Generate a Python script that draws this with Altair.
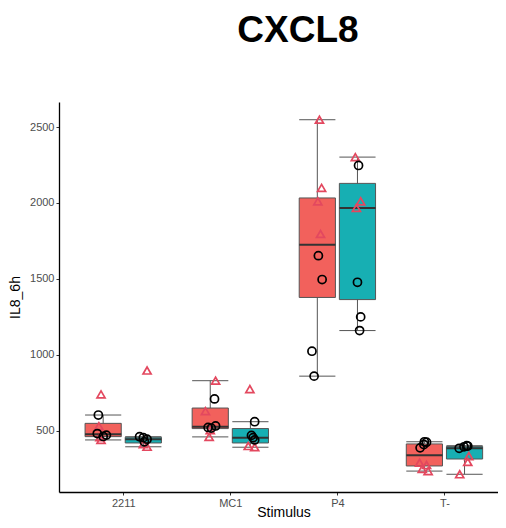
import altair as alt
import numpy as np
import pandas as pd

# ---- data ----
STIMULI = ["2211", "MC1", "P4", "T-"]
GROUPS = ["red", "teal"]

# values (IL8_6h), marker kind (c = circle, t = triangle), horizontal jitter (category units)
v_2211_red = [740, 531, 440, 458, 604, 482, 472, 463]
s_2211_red = ["t", "t", "t", "t", "c", "c", "c", "c"]
j_2211_red = [-0.02, -0.04, -0.02, -0.03, -0.045, -0.055, 0.03, 0.0]

v_2211_teal = [897, 395, 412, 461, 455, 445, 428]
s_2211_teal = ["t", "t", "t", "c", "c", "c", "c"]
j_2211_teal = [0.035, 0.035, 0.0, -0.035, 0.0, 0.035, 0.01]

v_MC1_red = [830, 630, 460, 505, 710, 532, 522, 518]
s_MC1_red = ["t", "t", "t", "t", "c", "c", "c", "c"]
j_MC1_red = [0.05, -0.045, -0.01, 0.0, 0.04, 0.05, -0.02, 0.01]

v_MC1_teal = [775, 400, 392, 560, 470, 455, 440]
s_MC1_teal = ["t", "t", "t", "c", "c", "c", "c"]
j_MC1_teal = [-0.005, -0.02, 0.04, 0.04, 0.01, 0.025, 0.04]

v_P4_red = [2548, 2099, 2011, 1796, 1653, 1496, 1024, 860]
s_P4_red = ["t", "t", "t", "t", "c", "c", "c", "c"]
j_P4_red = [0.02, 0.04, 0.005, 0.03, 0.01, 0.045, -0.05, -0.03]

v_P4_teal = [2302, 2011, 1967, 2247, 1478, 1250, 1160]
s_P4_teal = ["t", "t", "t", "c", "c", "c", "c"]
j_P4_teal = [-0.02, 0.03, -0.01, 0.01, 0.0, 0.03, 0.02]

v_Tm_red = [235, 250, 275, 290, 388, 410, 425, 428]
s_Tm_red = ["t", "t", "t", "t", "c", "c", "c", "c"]
j_Tm_red = [0.035, -0.02, 0.02, -0.045, -0.04, -0.005, 0.02, 0.0]

v_Tm_teal = [214, 295, 334, 385, 395, 400, 402]
s_Tm_teal = ["t", "t", "t", "c", "c", "c", "c"]
j_Tm_teal = [-0.045, 0.03, 0.04, -0.05, -0.005, 0.03, 0.02]

SERIES = {
    ("2211", "red"): (v_2211_red, s_2211_red, j_2211_red),
    ("2211", "teal"): (v_2211_teal, s_2211_teal, j_2211_teal),
    ("MC1", "red"): (v_MC1_red, s_MC1_red, j_MC1_red),
    ("MC1", "teal"): (v_MC1_teal, s_MC1_teal, j_MC1_teal),
    ("P4", "red"): (v_P4_red, s_P4_red, j_P4_red),
    ("P4", "teal"): (v_P4_teal, s_P4_teal, j_P4_teal),
    ("T-", "red"): (v_Tm_red, s_Tm_red, j_Tm_red),
    ("T-", "teal"): (v_Tm_teal, s_Tm_teal, j_Tm_teal),
}

FILL = {"red": "#F2615C", "teal": "#17AFB3"}
POINT_COLOR = {"c": "#000000", "t": "#E3485F"}
POINT_SHAPE = {"c": "circle", "t": "triangle-up"}
DODGE = {"red": -0.1875, "teal": 0.1875}
HALF = 0.169

pts, boxes = [], []
for (stim, grp), (vals, shp, jit) in SERIES.items():
    centre = STIMULI.index(stim) + 1 + DODGE[grp]
    for v, s, j in zip(vals, shp, jit):
        pts.append({"stim": stim, "grp": grp, "value": v, "x": centre + j,
                    "col": POINT_COLOR[s], "shp": POINT_SHAPE[s]})
    a = np.array(vals, dtype=float)
    q1, med, q3 = np.percentile(a, [25, 50, 75])
    iqr = q3 - q1
    lo = a[a >= q1 - 1.5 * iqr].min()
    hi = a[a <= q3 + 1.5 * iqr].max()
    boxes.append({"stim": stim, "grp": grp, "xc": centre, "xl": centre - HALF,
                  "xr": centre + HALF, "q1": q1, "med": med, "q3": q3,
                  "lo": lo, "hi": hi, "fill": FILL[grp]})

pts = pd.DataFrame(pts)
boxes = pd.DataFrame(boxes)

YMIN, YMAX = 97.3, 2664.7
xs = alt.Scale(domain=[0.4, 4.5], nice=False, zero=False)
ys = alt.Scale(domain=[YMIN, YMAX], nice=False, zero=False)

label_expr = "[" + ",".join("'%s'" % s for s in STIMULI) + "][datum.value - 1]"

x_axis = alt.Axis(values=[1, 2, 3, 4], labelExpr=label_expr, title="Stimulus",
                  titleX=224.5, titleY=20, titleBaseline="middle", titleAlign="center")
y_axis = alt.Axis(values=[500, 1000, 1500, 2000, 2500], format="d", title="IL8_6h",
                  titleX=-44, titleY=195, titleAngle=270, titleBaseline="middle",
                  titleAlign="center")

base = alt.Chart(boxes)

whisk = base.mark_rule(color="#555555", strokeWidth=1).encode(
    x=alt.X("xc:Q", scale=xs, axis=x_axis),
    y=alt.Y("lo:Q", scale=ys, axis=y_axis),
    y2="hi:Q",
)
cap_lo = base.mark_rule(color="#555555", strokeWidth=1).encode(
    x=alt.X("xl:Q", scale=xs), x2="xr:Q", y=alt.Y("lo:Q", scale=ys))
cap_hi = base.mark_rule(color="#555555", strokeWidth=1).encode(
    x=alt.X("xl:Q", scale=xs), x2="xr:Q", y=alt.Y("hi:Q", scale=ys))
box = base.mark_rect(stroke="#555555", strokeWidth=1).encode(
    x=alt.X("xl:Q", scale=xs), x2="xr:Q",
    y=alt.Y("q1:Q", scale=ys), y2="q3:Q",
    fill=alt.Fill("fill:N", scale=None),
)
median = base.mark_rule(color="#333333", strokeWidth=2).encode(
    x=alt.X("xl:Q", scale=xs), x2="xr:Q", y=alt.Y("med:Q", scale=ys))

points = alt.Chart(pts).mark_point(filled=False, strokeWidth=1.7, size=65, opacity=1).encode(
    x=alt.X("x:Q", scale=xs),
    y=alt.Y("value:Q", scale=ys),
    color=alt.Color("col:N", scale=None),
    shape=alt.Shape("shp:N", scale=None),
)

chart = alt.layer(whisk, cap_lo, cap_hi, box, median, points).properties(
    width=439,
    height=390,
    padding={"left": 51, "top": 94, "right": 0, "bottom": 28},
    autosize=alt.AutoSizeParams(type="none"),
    title=alt.TitleParams("CXCL8", fontSize=37, font="Liberation Sans", fontWeight="bold",
                          anchor="middle", dx=19.5, offset=52, color="#000000"),
).configure_view(stroke=None).configure_axis(
    grid=False,
    domainColor="#000000",
    domainWidth=1.3,
    tickColor="#333333",
    tickSize=3,
    labelPadding=2,
    labelColor="#4D4D4D",
    labelFont="Liberation Sans",
    labelFontSize=11,
    titleFont="Liberation Sans",
    titleFontSize=14,
    titleFontWeight="normal",
    titleColor="#000000",
)

chart.save("out.html", embed_options={"renderer": "svg", "actions": False})
